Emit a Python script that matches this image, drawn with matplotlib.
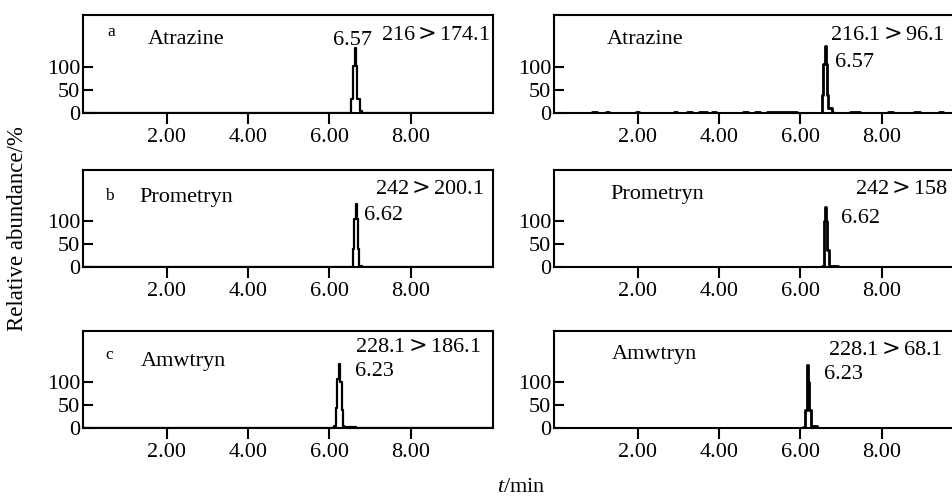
import matplotlib
matplotlib.use("Agg")
import matplotlib.pyplot as plt

plt.rcParams['font.family'] = ['Liberation Serif', 'DejaVu Serif']
plt.rcParams['mathtext.fontset'] = 'custom'
plt.rcParams['mathtext.it'] = 'Liberation Serif:italic'
plt.rcParams['mathtext.rm'] = 'DejaVu Serif'

# chromatogram traces (time in min, relative abundance in %), drawn as steps
t_a1 = [0.0, 6.53, 6.57, 6.62, 6.64, 6.68, 6.75, 6.80, 10.0]
y_a1 = [0, 30, 102, 140, 102, 31, 5, 0, 0]

t_a2 = [0.0, 0.87, 1.00, 1.22, 1.29, 1.96, 2.03, 2.90, 2.97, 3.22, 3.34,
        3.51, 3.69, 3.83, 3.93, 4.58, 4.70, 4.88, 5.00, 5.17, 5.45, 5.52,
        5.91, 6.52, 6.56, 6.60, 6.62, 6.64, 6.68, 6.78, 6.81, 7.22, 7.47,
        8.16, 8.28, 8.78, 8.95, 9.40, 9.50]
y_a2 = [0, 3, 0, 3, 0, 3, 0, 3, 0, 3, 0,
        3, 0, 3, 0, 3, 0, 3, 0, 3, 2, 3,
        0, 38, 105, 145, 105, 38, 10, 3, 0, 3, 0,
        3, 0, 3, 0, 3, 0]

t_b1 = [0.0, 6.57, 6.61, 6.65, 6.67, 6.70, 6.73, 6.80, 10.0]
y_b1 = [0, 40, 105, 138, 105, 40, 3, 0, 0]

t_b2 = [0.0, 6.52, 6.57, 6.61, 6.63, 6.66, 6.69, 6.93, 10.0]
y_b2 = [0, 3, 100, 132, 100, 38, 3, 0, 0]

t_c1 = [0.0, 6.12, 6.15, 6.19, 6.24, 6.26, 6.30, 6.33, 6.36, 6.66, 10.0]
y_c1 = [0, 5, 43, 107, 140, 100, 40, 5, 2, 0, 0]

t_c2 = [0.0, 6.07, 6.12, 6.15, 6.17, 6.19, 6.21, 6.25, 6.40, 10.0]
y_c2 = [0, 3, 40, 100, 137, 100, 40, 5, 0, 0]

compounds = ["Atrazine", "Prometryn", "Amwtryn"]
panel_letters = ["a", "b", "c"]
rt_labels = ["6.57", "6.62", "6.23"]
transitions_left = ["216$>$174.1", "242$>$200.1", "228.1$>$186.1"]
transitions_right = ["216.1$>$96.1", "242$>$158", "228.1$>$68.1"]

x_ticks = [2, 4, 6, 8]
x_ticklabels = ["2.00", "4.00", "6.00", "8.00"]
y_ticks = [0, 50, 100]

traces = [[(t_a1, y_a1), (t_a2, y_a2)],
          [(t_b1, y_b1), (t_b2, y_b2)],
          [(t_c1, y_c1), (t_c2, y_c2)]]

W, H = 953, 496
fig = plt.figure(figsize=(W / 100, H / 100), dpi=100)

rows_px = [(15, 113), (170, 267), (331, 428)]
cols_px = [83, 554]
ax_w = 410

# text positions (axes fraction) per row: name, transition, retention time
name_pos = [[(0.157, 0.745), (0.128, 0.755)],
            [(0.137, 0.72), (0.137, 0.75)],
            [(0.141, 0.69), (0.141, 0.76)]]
trans_pos = [[(0.727, 0.79), (0.672, 0.79)],
             [(0.712, 0.794), (0.734, 0.794)],
             [(0.663, 0.835), (0.668, 0.80)]]
rt_pos = [[(0.61, 0.735), (0.685, 0.515)],
          [(0.685, 0.536), (0.699, 0.50)],
          [(0.663, 0.58), (0.659, 0.55)]]
letter_pos = [(0.068, 0.83), (0.065, 0.727), (0.064, 0.753)]

fs = 16
for r, (top, bot) in enumerate(rows_px):
    for c, left in enumerate(cols_px):
        ax = fig.add_axes([left / W, (H - bot) / H, ax_w / W, (bot - top) / H])
        t, y = traces[r][c]
        ax.plot(t, y, color='black', lw=1.6 if c == 0 else 2.0,
                drawstyle='steps-post')
        ax.set_xlim(-0.06, 10.02)
        ax.set_ylim(0, 212)
        ax.set_xticks(x_ticks)
        ax.set_xticklabels(x_ticklabels, fontsize=fs)
        ax.set_yticks(y_ticks)
        ax.set_yticklabels([str(v) for v in y_ticks], fontsize=fs)
        ax.tick_params(axis='x', direction='out', length=8, width=1.5, pad=3)
        ax.tick_params(axis='y', direction='in', length=7, width=1.5, pad=2)
        for s in ax.spines.values():
            s.set_linewidth(1.5)

        ax.text(*name_pos[r][c], compounds[r], transform=ax.transAxes,
                fontsize=fs, ha='left', va='center')
        ax.text(*trans_pos[r][c], transitions_left[r] if c == 0 else transitions_right[r],
                transform=ax.transAxes, fontsize=fs, ha='left', va='center')
        ax.text(*rt_pos[r][c], rt_labels[r], transform=ax.transAxes,
                fontsize=fs, ha='left', va='center')
        if c == 0:
            ax.text(*letter_pos[r], panel_letters[r], transform=ax.transAxes,
                    fontsize=12.5, ha='center', va='center')

fig.text(18 / W, (H - 229) / H, "Relative abundance/%", rotation=90,
         fontsize=16.5, ha='center', va='center')
fig.text(521 / W, (H - 488) / H, r"$t$/min", fontsize=fs, ha='center', va='center')

fig.savefig("out.png", dpi=100)
